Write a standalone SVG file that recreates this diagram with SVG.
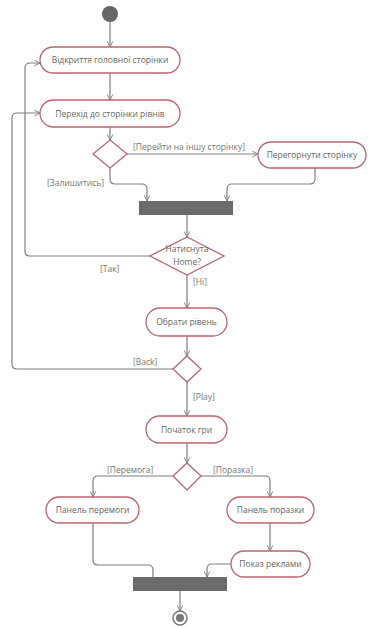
<svg xmlns="http://www.w3.org/2000/svg" width="368" height="628" viewBox="0 0 368 628">
<defs>
<marker id="arr" viewBox="0 0 10 10" refX="9" refY="5" markerWidth="7" markerHeight="7" orient="auto" markerUnits="userSpaceOnUse">
<path d="M1,1 L9,5 L1,9" fill="none" stroke="#7a7a7a" stroke-width="1.3"/>
</marker>
<style>
.n{fill:#fff;stroke:#b96672;stroke-width:1.3}
.t{font-family:"Open Sans","DejaVu Sans",sans-serif;font-size:8.5px;fill:#666;text-anchor:middle}
.l{font-family:"Open Sans","DejaVu Sans",sans-serif;font-size:8.5px;fill:#777}
.c{fill:none;stroke:#808080;stroke-width:1.2}
.a{marker-end:url(#arr)}
.bar{fill:#6b6b6b}
</style>
</defs>
<rect width="368" height="628" fill="#fff"/>
<g id="connectors">
<path class="c a" d="M110,22 V47"/>
<path class="c a" d="M110,73 V100"/>
<path class="c a" d="M110,127 V140"/>
<path class="c a" d="M127,154 H258"/>
<path class="c a" d="M110,168 V179 Q110,184 115,184 H142 Q147,184 147,189 V201"/>
<path class="c a" d="M315,168 V179 Q315,184 310,184 H232 Q227,184 227,189 V201"/>
<path class="c a" d="M187,215 V237"/>
<path class="c a" d="M150,256 H30 Q25,256 25,251 V68 Q25,63 30,63 H40"/>
<path class="c a" d="M187,275 V308"/>
<path class="c a" d="M187,336 V356"/>
<path class="c a" d="M173,369 H17 Q12,369 12,364 V118 Q12,113 17,113 H40"/>
<path class="c a" d="M187,382 V416"/>
<path class="c a" d="M187,443 V463"/>
<path class="c a" d="M173,476 H98 Q93,476 93,481 V497"/>
<path class="c a" d="M200,476 H265 Q270,476 270,481 V497"/>
<path class="c a" d="M270,523 V551"/>
<path class="c" d="M93,523 V560 Q93,565 98,565 H148 Q153,565 153,570 V577"/>
<path class="c a" d="M231,564 H212 Q207,564 207,569 V577"/>
<path class="c a" d="M180,591 V611"/>
</g>
<g id="start"><circle cx="110" cy="14" r="8" fill="#666"/></g>
<g id="n1"><rect class="n" x="40" y="47" width="140" height="26" rx="13"/><text class="t" x="110" y="63">Відкриття головної сторінки</text></g>
<g id="n2"><rect class="n" x="40" y="100" width="140" height="27" rx="13.5"/><text class="t" x="110" y="116.5">Перехід до сторінки рівнів</text></g>
<g id="d1"><path class="n" d="M110,140 L127,154 L110,168 L93,154 Z"/></g>
<g id="n3"><rect class="n" x="258" y="142" width="108" height="26" rx="13"/><text class="t" x="312" y="158">Перегорнути сторінку</text></g>
<g id="bar1"><rect class="bar" x="139" y="201" width="94" height="14"/></g>
<g id="d2"><path class="n" d="M187,237 L224,256 L187,275 L150,256 Z"/><text class="t" x="187" y="252">Натиснута</text><text class="t" x="187" y="265">Home?</text></g>
<g id="n4"><rect class="n" x="146" y="308" width="81" height="28" rx="14"/><text class="t" x="186.5" y="325">Обрати рівень</text></g>
<g id="d3"><path class="n" d="M187,356 L201,369 L187,382 L173,369 Z"/></g>
<g id="n5"><rect class="n" x="146" y="416" width="81" height="27" rx="13.5"/><text class="t" x="186.5" y="432.5">Початок гри</text></g>
<g id="d4"><path class="n" d="M187,463 L201,476 L187,490 L173,476 Z"/></g>
<g id="n6"><rect class="n" x="46" y="497" width="93" height="26" rx="13"/><text class="t" x="92.5" y="513">Панель перемоги</text></g>
<g id="n7"><rect class="n" x="227" y="497" width="87" height="26" rx="13"/><text class="t" x="270.5" y="513">Панель поразки</text></g>
<g id="n8"><rect class="n" x="231" y="551" width="79" height="26" rx="13"/><text class="t" x="270.5" y="567">Показ реклами</text></g>
<g id="bar2"><rect class="bar" x="133" y="577" width="94" height="14"/></g>
<g id="end"><circle cx="180" cy="618" r="7" fill="#fff" stroke="#777" stroke-width="1.5"/><circle cx="180" cy="618" r="4" fill="#777"/></g>
<g id="labels">
<text class="l" x="133" y="150">[Перейти на іншу сторінку]</text>
<text class="l" x="47" y="186">[Залишитись]</text>
<text class="l" x="100" y="272">[Так]</text>
<text class="l" x="193" y="285">[Ні]</text>
<text class="l" x="133" y="365">[Back]</text>
<text class="l" x="193" y="400">[Play]</text>
<text class="l" x="107" y="473">[Перемога]</text>
<text class="l" x="213" y="473">[Поразка]</text>
</g>
</svg>
